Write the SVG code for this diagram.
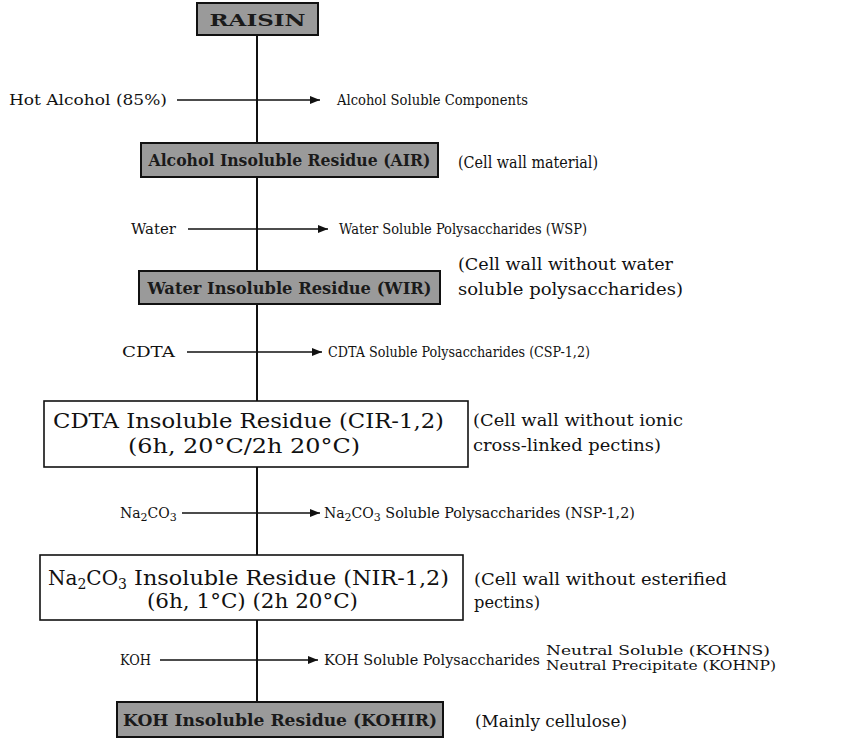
<svg xmlns="http://www.w3.org/2000/svg" width="867" height="745" viewBox="0 0 867 745">
<style>
  .bg{fill:#ffffff}
  .shade{fill:#9a9a9a;stroke:#111;stroke-width:2}
  .plain{fill:#ffffff;stroke:#111;stroke-width:1.6}
  .spine{stroke:#111;stroke-width:2;fill:none}
  .arr{stroke:#111;stroke-width:1.6;fill:none;marker-end:url(#ah)}
  text{font-family:"DejaVu Serif","Liberation Serif",serif;fill:#111}
  .row{font-size:14px}
  .side{font-size:16.5px}
  .boxt{font-size:20px}
  .bold{font-size:17px;font-weight:bold;fill:#1a1a1a}
  .sm{font-size:11px}
  .nt{font-size:12.5px}
</style>
<defs>
  <marker id="ah" viewBox="0 0 10 8" refX="10" refY="4" markerWidth="10" markerHeight="8" markerUnits="userSpaceOnUse" orient="auto">
    <path d="M0,0 L10,4 L0,8 z" fill="#111"/>
  </marker>
</defs>
<rect class="bg" x="0" y="0" width="867" height="745"/>

<g id="connectors">
  <line class="spine" x1="257" y1="35" x2="257" y2="702"/>
  <line class="arr" x1="177" y1="100" x2="320" y2="100"/>
  <line class="arr" x1="188" y1="229" x2="328" y2="229"/>
  <line class="arr" x1="187" y1="352" x2="322" y2="352"/>
  <line class="arr" x1="182" y1="513" x2="320" y2="513"/>
  <line class="arr" x1="160" y1="660" x2="318" y2="660"/>
</g>

<g id="raisin">
  <rect class="shade" x="197" y="3" width="121" height="32"/>
  <text class="bold" x="257.5" y="26" text-anchor="middle" font-size="20" textLength="96" lengthAdjust="spacingAndGlyphs">RAISIN</text>
</g>

<g id="hot-alcohol">
  <text class="row" x="9" y="105" textLength="158" lengthAdjust="spacingAndGlyphs">Hot Alcohol (85%)</text>
  <text class="row" x="337" y="105" textLength="191" lengthAdjust="spacingAndGlyphs">Alcohol Soluble Components</text>
</g>

<g id="air">
  <rect class="shade" x="141" y="143" width="297" height="34"/>
  <text class="bold" x="289.5" y="166" text-anchor="middle" textLength="282" lengthAdjust="spacingAndGlyphs">Alcohol Insoluble Residue (AIR)</text>
  <text class="side" x="458" y="168" textLength="140" lengthAdjust="spacingAndGlyphs">(Cell wall material)</text>
</g>

<g id="water">
  <text class="row" x="131" y="234" textLength="45" lengthAdjust="spacingAndGlyphs">Water</text>
  <text class="row" x="339" y="234" textLength="248" lengthAdjust="spacingAndGlyphs">Water Soluble Polysaccharides (WSP)</text>
</g>

<g id="wir">
  <rect class="shade" x="139" y="271" width="301" height="33"/>
  <text class="bold" x="289.5" y="294" text-anchor="middle" textLength="284" lengthAdjust="spacingAndGlyphs">Water Insoluble Residue (WIR)</text>
  <text class="side" x="458" y="270" textLength="215" lengthAdjust="spacingAndGlyphs">(Cell wall without water</text>
  <text class="side" x="458" y="295" textLength="225" lengthAdjust="spacingAndGlyphs">soluble polysaccharides)</text>
</g>

<g id="cdta">
  <text class="row" x="122" y="357" textLength="53" lengthAdjust="spacingAndGlyphs">CDTA</text>
  <text class="row" x="328" y="357" textLength="262" lengthAdjust="spacingAndGlyphs">CDTA Soluble Polysaccharides (CSP-1,2)</text>
</g>

<g id="cir">
  <rect class="plain" x="44" y="401" width="424" height="66"/>
  <text class="boxt" x="53" y="428" textLength="391" lengthAdjust="spacingAndGlyphs">CDTA Insoluble Residue (CIR-1,2)</text>
  <text class="boxt" x="128" y="453" textLength="232" lengthAdjust="spacingAndGlyphs">(6h, 20°C/2h 20°C)</text>
  <text class="side" x="473" y="426" textLength="210" lengthAdjust="spacingAndGlyphs">(Cell wall without ionic</text>
  <text class="side" x="473" y="451" textLength="188" lengthAdjust="spacingAndGlyphs">cross-linked pectins)</text>
</g>

<g id="na2co3">
  <text class="row" x="120" y="518">Na<tspan class="sm" dy="3">2</tspan><tspan dy="-3">CO</tspan><tspan class="sm" dy="3">3</tspan></text>
  <text class="row" x="324" y="518">Na<tspan class="sm" dy="3">2</tspan><tspan dy="-3">CO</tspan><tspan class="sm" dy="3">3</tspan><tspan dy="-3" textLength="254" lengthAdjust="spacingAndGlyphs"> Soluble Polysaccharides (NSP-1,2)</tspan></text>
</g>

<g id="nir">
  <rect class="plain" x="40" y="555" width="423" height="65"/>
  <text class="boxt" x="48" y="585">Na<tspan font-size="14" dy="4">2</tspan><tspan dy="-4">CO</tspan><tspan font-size="14" dy="4">3</tspan><tspan dy="-4" textLength="322" lengthAdjust="spacingAndGlyphs"> Insoluble Residue (NIR-1,2)</tspan></text>
  <text class="boxt" x="147" y="608" textLength="211" lengthAdjust="spacingAndGlyphs">(6h, 1°C) (2h 20°C)</text>
  <text class="side" x="474" y="585" textLength="253" lengthAdjust="spacingAndGlyphs">(Cell wall without esterified</text>
  <text class="side" x="474" y="608" textLength="66" lengthAdjust="spacingAndGlyphs">pectins)</text>
</g>

<g id="koh">
  <text class="row" x="120" y="665" textLength="31" lengthAdjust="spacingAndGlyphs">KOH</text>
  <text class="row" x="324" y="665" textLength="216" lengthAdjust="spacingAndGlyphs">KOH Soluble Polysaccharides</text>
  <text class="nt" x="546" y="655" textLength="224" lengthAdjust="spacingAndGlyphs">Neutral Soluble (KOHNS)</text>
  <text class="nt" x="546" y="670" textLength="230" lengthAdjust="spacingAndGlyphs">Neutral Precipitate (KOHNP)</text>
</g>

<g id="kohir">
  <rect class="shade" x="117" y="702" width="326" height="35"/>
  <text class="bold" x="280" y="726" text-anchor="middle" textLength="314" lengthAdjust="spacingAndGlyphs">KOH Insoluble Residue (KOHIR)</text>
  <text class="side" x="475" y="727" textLength="152" lengthAdjust="spacingAndGlyphs">(Mainly cellulose)</text>
</g>
</svg>
